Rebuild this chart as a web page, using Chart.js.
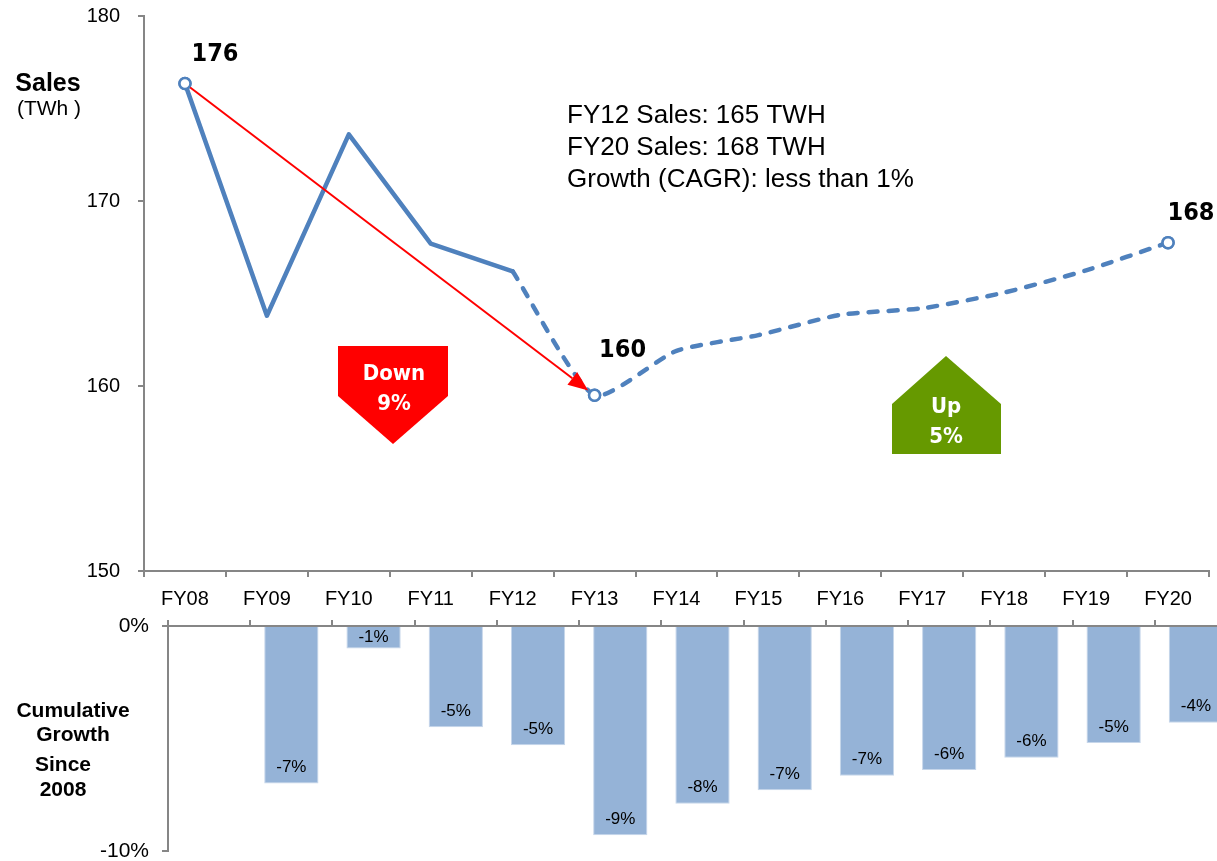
<!DOCTYPE html>
<html>
<head>
<meta charset="utf-8">
<script src="https://cdn.jsdelivr.net/npm/chart.js@4.4.1/dist/chart.umd.min.js"></script>
<style>
  html, body { margin: 0; padding: 0; background: #fff; overflow: hidden; width: 1217px; height: 861px; }
  #top { position: absolute; left: 0; top: 0; }
  #bottom { position: absolute; left: 0; top: 610px; }
</style>
</head>
<body>
<canvas id="top" width="1217" height="620"></canvas>
<canvas id="bottom" width="1240" height="256"></canvas>
<script>
// ---- data ----
const categories = ['FY08','FY09','FY10','FY11','FY12','FY13','FY14','FY15','FY16','FY17','FY18','FY19','FY20'];
const salesTWh = [176.35, 163.8, 173.6, 167.7, 166.2, 159.5, 161.9, 162.75, 163.85, 164.2, 165.05, 166.25, 167.75];
const actualLastIndex = 4;           // solid line up to FY12, dashed forecast afterwards
const highlightIndex = [0, 5, 12];   // points with hollow markers and value labels
const salesTicks = [150, 160, 170, 180];
const growthPct = [0, -7.0, -1.0, -4.5, -5.3, -9.3, -7.9, -7.3, -6.65, -6.4, -5.85, -5.2, -4.3];
const growthLabels = ['', '-7%', '-1%', '-5%', '-5%', '-9%', '-8%', '-7%', '-7%', '-6%', '-6%', '-5%', '-4%'];
const growthTicks = [-10, 0];
const notes = ['FY12 Sales: 165 TWH', 'FY20 Sales: 168 TWH', 'Growth (CAGR): less than 1%'];
const downText = ['Down', '9%'];
const upText = ['Up', '5%'];

// ---- styles ----
const BLUE = '#4F81BD';
const AXIS = '#868686';
const SANS = '"Liberation Sans", Arial, sans-serif';
const BOLDNUM = '"DejaVu Sans Condensed", "DejaVu Sans", sans-serif';

const solidData = salesTWh.map((v, i) => i <= actualLastIndex ? v : null);
const dashData = salesTWh.map((v, i) => i >= actualLastIndex ? v : null);
const markerRadius = ctx => highlightIndex.includes(ctx.dataIndex) ? 5.5 : 0;
const noVPad = s => { s.paddingTop = 0; s.paddingBottom = 0; };

const topAnnotations = {
  id: 'topAnnotations',
  afterDatasetsDraw(chart) {
    const ctx = chart.ctx;
    const xs = chart.scales.x, ys = chart.scales.y;
    ctx.save();
    // red arrow FY08 -> FY13
    const x0 = xs.getPixelForValue(0), y0 = ys.getPixelForValue(salesTWh[0]);
    let x1 = xs.getPixelForValue(5), y1 = ys.getPixelForValue(salesTWh[5]);
    const ang = Math.atan2(y1 - y0, x1 - x0);
    x1 -= Math.cos(ang) * 8; y1 -= Math.sin(ang) * 8;
    const hl = 20, hw = 8;
    const bx = x1 - Math.cos(ang) * hl, by = y1 - Math.sin(ang) * hl;
    ctx.strokeStyle = '#FF0000'; ctx.fillStyle = '#FF0000'; ctx.lineWidth = 2;
    ctx.beginPath(); ctx.moveTo(x0, y0); ctx.lineTo(bx, by); ctx.stroke();
    ctx.beginPath();
    ctx.moveTo(x1, y1);
    ctx.lineTo(bx + Math.sin(ang) * hw, by - Math.cos(ang) * hw);
    ctx.lineTo(bx - Math.sin(ang) * hw, by + Math.cos(ang) * hw);
    ctx.closePath(); ctx.fill();

    // redraw highlighted markers on top of arrow
    highlightIndex.forEach(i => {
      const px = xs.getPixelForValue(i), py = ys.getPixelForValue(salesTWh[i]);
      ctx.beginPath(); ctx.arc(px, py, 5.5, 0, Math.PI * 2);
      ctx.fillStyle = '#fff'; ctx.fill();
      ctx.lineWidth = 2.5; ctx.strokeStyle = BLUE; ctx.stroke();
    });

    // value labels
    const offs = [[30, -29], [28, -45], [23, -29]];
    ctx.fillStyle = '#000';
    ctx.font = 'bold 25px ' + BOLDNUM;
    ctx.textAlign = 'center'; ctx.textBaseline = 'middle';
    highlightIndex.forEach((i, k) => {
      const px = xs.getPixelForValue(i), py = ys.getPixelForValue(salesTWh[i]);
      ctx.fillText(String(Math.round(salesTWh[i])), px + offs[k][0], py + offs[k][1]);
    });

    // notes
    ctx.font = '26px ' + SANS;
    ctx.textAlign = 'left'; ctx.textBaseline = 'alphabetic';
    notes.forEach((t, k) => ctx.fillText(t, 567, 123 + k * 32));

    // axis title
    ctx.textAlign = 'center'; ctx.textBaseline = 'middle';
    ctx.font = 'bold 25px ' + SANS;
    ctx.fillText('Sales', 48, 84);
    ctx.font = '21px ' + SANS;
    ctx.fillText('(TWh )', 49, 109);

    // Down arrow
    ctx.fillStyle = '#FF0000';
    ctx.beginPath();
    ctx.moveTo(338, 346); ctx.lineTo(448, 346); ctx.lineTo(448, 396);
    ctx.lineTo(393, 444); ctx.lineTo(338, 396); ctx.closePath(); ctx.fill();
    // Up arrow
    ctx.fillStyle = '#669900';
    ctx.beginPath();
    ctx.moveTo(946, 356); ctx.lineTo(1001, 404); ctx.lineTo(1001, 454);
    ctx.lineTo(892, 454); ctx.lineTo(892, 404); ctx.closePath(); ctx.fill();

    ctx.fillStyle = '#fff';
    ctx.font = 'bold 22px ' + BOLDNUM;
    ctx.fillText(downText[0], 394, 374);
    ctx.fillText(downText[1], 394, 404);
    ctx.fillText(upText[0], 946, 407);
    ctx.fillText(upText[1], 946, 437);
    ctx.restore();
  }
};

new Chart(document.getElementById('top'), {
  type: 'line',
  data: {
    labels: categories,
    datasets: [
      { data: solidData, borderColor: BLUE, borderWidth: 4.5, tension: 0, fill: false,
        pointRadius: markerRadius, pointBackgroundColor: '#fff', pointBorderColor: BLUE, pointBorderWidth: 2.5,
        borderJoinStyle: 'round', borderCapStyle: 'round', spanGaps: false },
      { data: dashData, borderColor: BLUE, borderWidth: 4.5, tension: 0.2, fill: false,
        borderDash: [9, 11], borderCapStyle: 'round',
        pointRadius: markerRadius, pointBackgroundColor: '#fff', pointBorderColor: BLUE, pointBorderWidth: 2.5 }
    ]
  },
  options: {
    responsive: false, animation: false,
    layout: { padding: { top: 16, right: 4, left: 0, bottom: 0 } },
    plugins: { legend: { display: false }, tooltip: { enabled: false } },
    scales: {
      x: {
        type: 'category', offset: true,
        grid: { offset: true, drawOnChartArea: false, drawTicks: true, tickLength: 6, color: AXIS, lineWidth: 2 },
        border: { color: AXIS, width: 2 },
        ticks: { color: '#000', font: { family: SANS, size: 20 }, padding: 10, maxRotation: 0, autoSkip: false },
        afterFit: s => { s.height = 49; s.paddingLeft = 0; s.paddingRight = 0; }
      },
      y: {
        min: salesTicks[0], max: salesTicks[salesTicks.length - 1],
        afterBuildTicks: s => { s.ticks = salesTicks.map(v => ({ value: v })); },
        grid: { drawOnChartArea: false, drawTicks: true, tickLength: 6, color: AXIS, lineWidth: 2 },
        border: { color: AXIS, width: 2 },
        ticks: { color: '#000', font: { family: SANS, size: 20 }, padding: 18 },
        afterFit: s => { s.width = 144; noVPad(s); }
      }
    }
  },
  plugins: [topAnnotations]
});

const bottomAnnotations = {
  id: 'bottomAnnotations',
  afterDatasetsDraw(chart) {
    const ctx = chart.ctx;
    const meta = chart.getDatasetMeta(0);
    ctx.save();
    ctx.fillStyle = '#000';
    ctx.font = '17px ' + SANS;
    ctx.textAlign = 'center'; ctx.textBaseline = 'middle';
    meta.data.forEach((bar, i) => {
      if (!growthLabels[i]) return;
      const y = Math.max((bar.y + bar.base) / 2, bar.y - 16);
      ctx.fillText(growthLabels[i], bar.x, y);
    });
    ctx.font = 'bold 21px ' + SANS;
    ctx.fillText('Cumulative', 73, 101);
    ctx.fillText('Growth', 73, 125);
    ctx.fillText('Since', 63, 155);
    ctx.fillText('2008', 63, 180);
    ctx.restore();
  }
};

new Chart(document.getElementById('bottom'), {
  type: 'bar',
  data: {
    labels: categories,
    datasets: [{
      data: growthPct, backgroundColor: '#95B3D7', borderColor: '#C6D6EA', borderWidth: 1,
      barPercentage: 0.66, categoryPercentage: 1
    }]
  },
  options: {
    responsive: false, animation: false,
    layout: { padding: { top: 0, right: 3, left: 0, bottom: 15 } },
    plugins: { legend: { display: false }, tooltip: { enabled: false } },
    scales: {
      x: {
        type: 'category', position: 'top', offset: true,
        grid: { offset: true, drawOnChartArea: false, drawTicks: true, tickLength: 6, color: AXIS, lineWidth: 2 },
        border: { color: AXIS, width: 2 },
        ticks: { display: false },
        afterFit: s => { s.height = 16; s.paddingLeft = 0; s.paddingRight = 0; }
      },
      y: {
        min: growthTicks[0], max: growthTicks[growthTicks.length - 1],
        afterBuildTicks: s => { s.ticks = growthTicks.map(v => ({ value: v })); },
        grid: { drawOnChartArea: false, drawTicks: true, tickLength: 6, color: AXIS, lineWidth: 2 },
        border: { color: AXIS, width: 2 },
        ticks: { color: '#000', font: { family: SANS, size: 21 }, padding: 13, callback: v => v + '%' },
        afterFit: s => { s.width = 168; noVPad(s); }
      }
    }
  },
  plugins: [bottomAnnotations]
});
</script>
</body>
</html>
